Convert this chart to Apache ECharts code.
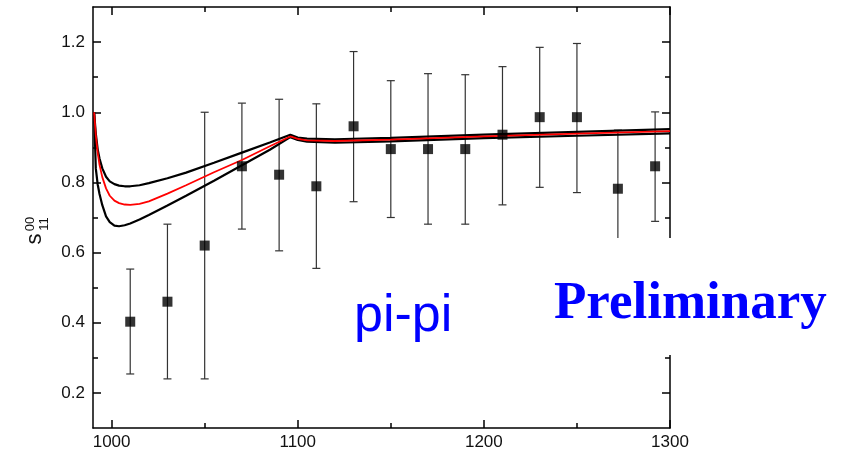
<!DOCTYPE html>
<html>
<head>
<meta charset="utf-8">
<script src="https://cdn.jsdelivr.net/npm/echarts@6/dist/echarts.min.js"></script>
<style>
html,body{margin:0;padding:0;background:#fff;}
#chart{width:846px;height:457px;}
</style>
</head>
<body>
<div id="chart"></div>
<script>
// ---- data ----
const pointX   = [1010, 1030, 1050, 1070, 1090, 1110, 1130, 1150, 1170, 1190, 1210, 1230, 1250, 1272, 1292];
const pointY   = [0.403, 0.460, 0.620, 0.846, 0.822, 0.789, 0.960, 0.895, 0.895, 0.895, 0.936, 0.986, 0.986, 0.782, 0.846];
const errLow   = [0.254, 0.240, 0.240, 0.667, 0.605, 0.555, 0.745, 0.700, 0.681, 0.681, 0.736, 0.786, 0.771, 0.615, 0.689];
const errHigh  = [0.553, 0.681, 1.000, 1.026, 1.037, 1.024, 1.173, 1.090, 1.110, 1.107, 1.130, 1.185, 1.196, 0.949, 1.001];

const curveX     = [990.6, 991.5, 992.5, 993.5, 995, 997, 999, 1001.5, 1004, 1007, 1010, 1015, 1020, 1030, 1040, 1055, 1070, 1085, 1096, 1100, 1105, 1120, 1150, 1200, 1250, 1300];
const upperCurve = [1.000, 0.940, 0.895, 0.868, 0.840, 0.816, 0.803, 0.795, 0.791, 0.789, 0.789, 0.792, 0.798, 0.812, 0.828, 0.856, 0.885, 0.914, 0.936, 0.928, 0.925, 0.923, 0.927, 0.936, 0.944, 0.952];
const centralCurve = [1.000, 0.935, 0.885, 0.850, 0.815, 0.783, 0.762, 0.748, 0.741, 0.737, 0.736, 0.739, 0.746, 0.768, 0.792, 0.829, 0.864, 0.903, 0.931, 0.924, 0.920, 0.918, 0.922, 0.931, 0.939, 0.946];
const lowerCurve = [1.000, 0.840, 0.795, 0.767, 0.735, 0.703, 0.687, 0.677, 0.675, 0.678, 0.683, 0.694, 0.707, 0.734, 0.762, 0.805, 0.849, 0.893, 0.929, 0.921, 0.916, 0.913, 0.917, 0.926, 0.933, 0.940];

const xMajorTicks = [1000, 1100, 1200, 1300];
const xMinorTicks = [1050, 1150, 1250];
const yMajorTicks = [0.2, 0.4, 0.6, 0.8, 1.0, 1.2];
const yMinorTicks = [0.3, 0.5, 0.7, 0.9, 1.1];

const xMin = 990, xMax = 1300, yMin = 0.1, yMax = 1.3;

// ---- chart ----
const chart = echarts.init(document.getElementById('chart'), null, {renderer: 'canvas'});
const FONT = '"Liberation Sans", Arial, Helvetica, sans-serif';
const lineStyle = {color: '#000', width: 1.5};

function xAxisDef(pos, ticks, len, showLine, labels) {
  return {
    type: 'value', min: xMin, max: xMax, interval: 10, position: pos,
    axisLine: {show: showLine, onZero: false, lineStyle: lineStyle},
    axisTick: {show: true, inside: true, length: len, lineStyle: lineStyle, customValues: ticks},
    axisLabel: {show: labels, customValues: ticks, margin: 6, fontSize: 17, color: '#111', fontFamily: FONT,
      formatter: v => String(Math.round(v))},
    splitLine: {show: false}
  };
}
function yAxisDef(pos, ticks, len, showLine, labels) {
  return {
    type: 'value', min: yMin, max: yMax, interval: 0.1, position: pos,
    axisLine: {show: showLine, onZero: false, lineStyle: lineStyle},
    axisTick: {show: true, inside: true, length: len, lineStyle: lineStyle, customValues: ticks},
    axisLabel: {show: labels, customValues: ticks, margin: 8, fontSize: 17, color: '#111', fontFamily: FONT,
      formatter: v => v.toFixed(1)},
    splitLine: {show: false}
  };
}

const errData = pointX.map((x, i) => [x, errLow[i], errHigh[i]]);
const pts = pointX.map((x, i) => [x, pointY[i]]);
const mk = arr => curveX.map((x, i) => [x, arr[i]]);

const option = {
  backgroundColor: '#fff',
  animation: false,
  grid: {left: 93, right: 176, top: 7, bottom: 29},
  xAxis: [
    xAxisDef('bottom', xMajorTicks, 8, true, true),
    xAxisDef('bottom', xMinorTicks, 5, false, false),
    xAxisDef('top', xMajorTicks, 8, true, false),
    xAxisDef('top', xMinorTicks, 5, false, false)
  ],
  yAxis: [
    yAxisDef('left', yMajorTicks, 8, true, true),
    yAxisDef('left', yMinorTicks, 5, false, false),
    yAxisDef('right', yMajorTicks, 8, true, false),
    yAxisDef('right', yMinorTicks, 5, false, false)
  ],
  series: [
    {
      type: 'custom', name: 'errors', data: errData, z: 2,
      renderItem: function (params, api) {
        const x = api.value(0), lo = api.value(1), hi = api.value(2);
        const pHi = api.coord([x, hi]), pLo = api.coord([x, lo]);
        const c = {stroke: '#333', lineWidth: 1.2};
        const cap = 4;
        return {
          type: 'group',
          children: [
            {type: 'line', shape: {x1: pHi[0], y1: pHi[1], x2: pLo[0], y2: pLo[1]}, style: c},
            {type: 'line', shape: {x1: pHi[0] - cap, y1: pHi[1], x2: pHi[0] + cap, y2: pHi[1]}, style: c},
            {type: 'line', shape: {x1: pLo[0] - cap, y1: pLo[1], x2: pLo[0] + cap, y2: pLo[1]}, style: c}
          ]
        };
      }
    },
    {type: 'line', data: mk(upperCurve), showSymbol: false, lineStyle: {color: '#000', width: 2.2}, z: 3},
    {type: 'line', data: mk(lowerCurve), showSymbol: false, lineStyle: {color: '#000', width: 2.2}, z: 3},
    {type: 'line', data: mk(centralCurve), showSymbol: false, lineStyle: {color: '#f00', width: 1.8}, z: 4},
    {type: 'scatter', data: pts, symbol: 'rect', symbolSize: 10, itemStyle: {color: '#000'}, z: 5}
  ],
  graphic: [
    {type: 'rect', z: 100, shape: {x: 553, y: 238, width: 282, height: 117}, style: {fill: '#fff'}},
    {type: 'text', z: 101, x: 554, y: 304, style: {text: 'Preliminary', fill: '#0000ff',
      font: 'bold 53px "Liberation Serif", "Times New Roman", serif', textAlign: 'left', textVerticalAlign: 'middle'}},
    {type: 'text', z: 101, x: 354, y: 317, style: {text: 'pi-pi', fill: '#0000ff',
      font: '52px "Liberation Sans", Arial, sans-serif', textAlign: 'left', textVerticalAlign: 'middle'}},
    {type: 'text', z: 101, x: 35, y: 239, rotation: Math.PI / 2, style: {text: 's', fill: '#111',
      font: '22px "Liberation Sans", Arial, sans-serif', textAlign: 'center', textVerticalAlign: 'middle'}},
    {type: 'text', z: 101, x: 30, y: 224, rotation: Math.PI / 2, style: {text: '00', fill: '#111',
      font: '13px "Liberation Sans", Arial, sans-serif', textAlign: 'center', textVerticalAlign: 'middle'}},
    {type: 'text', z: 101, x: 44, y: 224, rotation: Math.PI / 2, style: {text: '11', fill: '#111',
      font: '13px "Liberation Sans", Arial, sans-serif', textAlign: 'center', textVerticalAlign: 'middle'}}
  ]
};
chart.setOption(option);
</script>
</body>
</html>
